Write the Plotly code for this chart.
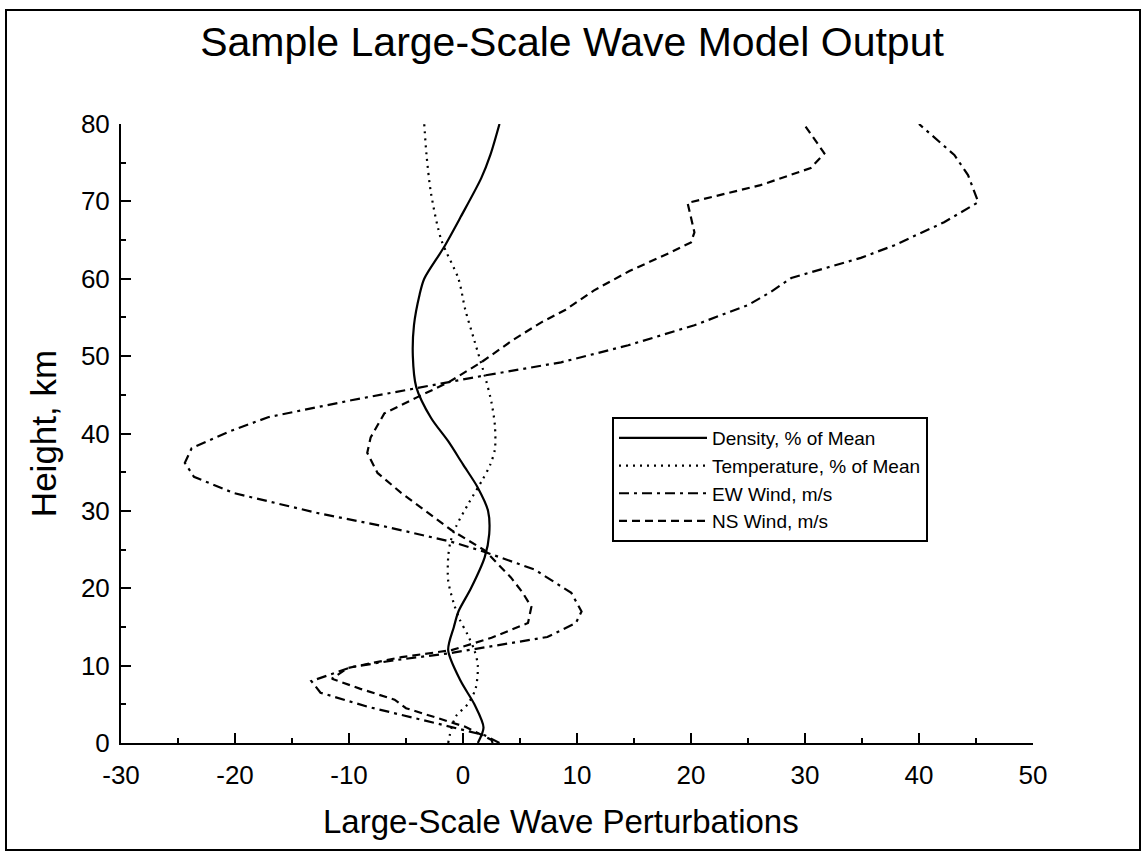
import plotly.graph_objects as go

# ---- data ----
density_h = [0, 2, 5, 8, 12, 15, 17, 20, 24, 27, 30, 33, 36, 39, 42, 46, 50, 54, 58, 60, 64, 68, 73, 76, 80]
density_v = [1.3, 1.8, 1.0, -0.2, -1.3, -0.8, -0.4, 0.7, 1.9, 2.3, 2.2, 1.3, 0.0, -1.3, -2.8, -4.1, -4.4, -4.3, -3.8, -3.4, -1.7, -0.2, 1.6, 2.4, 3.2]

temp_h = [0, 2, 3.5, 5, 7, 10, 12, 14, 16, 18, 21, 24, 26, 28, 31, 34, 36, 38, 41, 44, 47, 52, 56, 60, 65, 71, 76, 80]
temp_v = [-1.3, -1.0, -0.6, 0.4, 1.1, 1.3, 1.0, 0.4, -0.3, -0.8, -1.3, -1.3, -1.1, -0.6, 0.5, 1.7, 2.4, 2.8, 2.8, 2.5, 2.0, 1.0, 0.2, -0.4, -1.9, -2.8, -3.2, -3.4]

ew_h = [0, 1, 2.6, 4.7, 6.5, 8, 9.8, 10.7, 11.6, 12.5, 13.7, 15.5, 17, 19.4, 22.4, 24.7, 26, 28, 29.7, 32.3, 34.4, 36.2, 38.1, 40.2, 42.1, 44.3, 45.9, 47.5, 49.2, 51.4, 54, 56.6, 58.3, 60.1, 62.7, 64.3, 67.3, 69.9, 73.4, 76, 80]
ew_v = [3.2, 1.9, -2.5, -8.4, -12.5, -13.3, -9.8, -6.0, -1.2, 2.5, 7.4, 9.9, 10.4, 9.5, 6.3, 1.9, -1.0, -6.9, -12.7, -20.1, -23.6, -24.4, -23.8, -20.6, -17.1, -9.8, -4.0, 1.9, 8.6, 14.5, 20.3, 25.0, 27.0, 28.8, 34.9, 37.8, 42.2, 45.2, 44.3, 43.1, 40.0]

ns_h = [0, 0.4, 2.1, 4.5, 5.6, 7, 8.3, 9.7, 11.1, 12, 13.6, 15.5, 17.6, 19.5, 21.4, 24.9, 27.5, 30, 32.3, 34.9, 37.5, 39.5, 42.6, 44.7, 46.6, 49.2, 52, 54.3, 56, 58.5, 61, 63.4, 64.7, 66, 69.8, 72.1, 74.3, 76.2, 80]
ns_v = [2.6, 2.5, 0.2, -5.0, -6.0, -9.0, -11.5, -10.1, -5.4, -1.0, 2.5, 5.7, 6.0, 5.2, 4.2, 1.9, -1.0, -3.3, -5.4, -7.5, -8.4, -8.1, -6.9, -4.0, -1.3, 1.6, 4.3, 6.8, 9.0, 11.5, 14.6, 18.2, 20.0, 20.3, 19.7, 26.1, 30.5, 31.7, 29.9]

names = ["Density, % of Mean", "Temperature, % of Mean", "EW Wind, m/s", "NS Wind, m/s"]
x_ticks = [-30, -20, -10, 0, 10, 20, 30, 40, 50]
y_ticks = [0, 10, 20, 30, 40, 50, 60, 70, 80]

FONT = "Liberation Sans, Arial, sans-serif"

fig = go.Figure()
fig.add_trace(go.Scatter(x=density_v, y=density_h, mode="lines", name=names[0],
                         line=dict(color="black", width=2.2, shape="spline", smoothing=0.8)))
fig.add_trace(go.Scatter(x=temp_v, y=temp_h, mode="lines", name=names[1],
                         line=dict(color="black", width=2.2, dash="2px,5px", shape="spline", smoothing=0.8)))
fig.add_trace(go.Scatter(x=ew_v, y=ew_h, mode="lines", name=names[2],
                         line=dict(color="black", width=2.2, dash="10px,5px,3px,5px")))
fig.add_trace(go.Scatter(x=ns_v, y=ns_h, mode="lines", name=names[3],
                         line=dict(color="black", width=2.2, dash="8px,5px")))

W, H = 1144, 857
L, R, T, B = 121, 111, 124, 114
pw, ph = W - L - R, H - T - B

def px_to_paper_x(px):
    return (px - L) / pw

def px_to_paper_y(py):
    return (H - B - py) / ph

fig.update_layout(
    width=W, height=H,
    margin=dict(l=L, r=R, t=T, b=B),
    paper_bgcolor="white", plot_bgcolor="white",
    showlegend=True,
    title=dict(text="Sample Large-Scale Wave Model Output", x=0.5, xanchor="center",
               y=1 - 42 / H, yanchor="middle", yref="container",
               font=dict(family=FONT, size=41, color="black")),
    font=dict(family=FONT, color="black"),
    legend=dict(x=px_to_paper_x(612), y=px_to_paper_y(417), xanchor="left", yanchor="top",
                bordercolor="black", borderwidth=2, bgcolor="white",
                font=dict(family=FONT, size=19, color="black"),
                itemwidth=88, tracegroupgap=0),
    xaxis=dict(range=[-30, 50], tickvals=x_ticks, ticktext=[str(v) for v in x_ticks],
               showline=True, linecolor="black", linewidth=2, mirror=False,
               ticks="inside", ticklen=10, tickwidth=2, tickcolor="black",
               minor=dict(ticks="inside", ticklen=5, tickwidth=1.5, dtick=5, tickcolor="black", showgrid=False),
               showgrid=False, zeroline=False,
               tickfont=dict(family=FONT, size=26, color="black"),
               ticklabelstandoff=8),
    yaxis=dict(range=[0, 80], tickvals=y_ticks, ticktext=[str(v) for v in y_ticks],
               showline=True, linecolor="black", linewidth=2, mirror=False,
               ticks="inside", ticklen=10, tickwidth=2, tickcolor="black",
               minor=dict(ticks="inside", ticklen=5, tickwidth=1.5, dtick=5, tickcolor="black", showgrid=False),
               showgrid=False, zeroline=False,
               tickfont=dict(family=FONT, size=26, color="black"),
               ticklabelstandoff=4,
               title=dict(text="Height, km", standoff=14,
                          font=dict(family=FONT, size=35, color="black"))),
    annotations=[dict(text="Large-Scale Wave Perturbations", xref="paper", yref="paper",
                      x=px_to_paper_x(561), y=px_to_paper_y(821), xanchor="center", yanchor="middle",
                      showarrow=False, font=dict(family=FONT, size=33, color="black"))],
    shapes=[dict(type="rect", xref="paper", yref="paper",
                 x0=px_to_paper_x(6), x1=px_to_paper_x(1140),
                 y0=px_to_paper_y(850), y1=px_to_paper_y(10),
                 line=dict(color="black", width=2), fillcolor="rgba(0,0,0,0)", layer="below")],
)

fig.write_html("out.html", config={"displayModeBar": False},
               post_script="document.body.style.margin='0px';document.body.style.overflow='hidden';")
